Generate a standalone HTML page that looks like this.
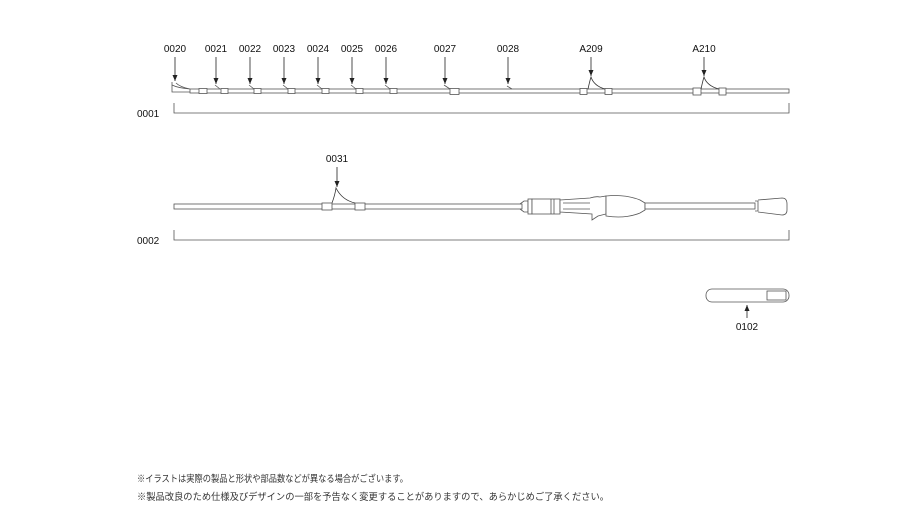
<!DOCTYPE html>
<html><head><meta charset="utf-8"><style>
html,body{margin:0;padding:0;background:#fff;}
svg{display:block;}
text{font-family:"Liberation Sans",sans-serif;font-size:10px;fill:#111;}
.jp{font-family:"Liberation Sans","Noto Sans CJK JP",sans-serif;font-size:9.5px;fill:#333;}
</style></head><body>
<svg width="914" height="530" viewBox="0 0 914 530" xmlns="http://www.w3.org/2000/svg">
<defs><marker id="ah" markerUnits="userSpaceOnUse" markerWidth="8" markerHeight="8" refX="6" refY="3" orient="auto"><path d="M0,0.5 L6,3 L0,5.5 Z" fill="#222"/></marker></defs>
<g stroke="#555" stroke-width="0.8" fill="none">
<path d="M172,82 L172,92 L190,92 M172,85 Q178,88 190,89 M176,83 Q180,87 190,89"/>
<rect x="190" y="89" width="599" height="4" fill="#fff"/>
<rect x="199" y="88.5" width="8" height="5" fill="#fff"/>
<rect x="221" y="88.5" width="7" height="5" fill="#fff"/>
<rect x="254" y="88.5" width="7" height="5" fill="#fff"/>
<rect x="288" y="88.5" width="7" height="5" fill="#fff"/>
<rect x="322" y="88.5" width="7" height="5" fill="#fff"/>
<rect x="356" y="88.5" width="7" height="5" fill="#fff"/>
<rect x="390" y="88.5" width="7" height="5" fill="#fff"/>
<rect x="450" y="88.5" width="9" height="6" fill="#fff"/>
<rect x="580" y="88.5" width="7" height="6" fill="#fff"/>
<rect x="605" y="88.5" width="7" height="6" fill="#fff"/>
<rect x="693" y="88" width="8" height="7" fill="#fff"/>
<rect x="719" y="88" width="7" height="7" fill="#fff"/>
<path d="M215,85 L220,89 M249,85 L254,89 M283,85 L288,89 M317,85 L322,89 M351,85 L356,89 M385,85 L390,89 M444,85 L450,89 M507,86 L512,89"/>
<path d="M588,89 Q590,80 591,77 Q594,86 605,89" stroke="#333"/>
<path d="M701,89 Q703,80 704,77 Q707,86 719,89" stroke="#333"/>
<path d="M174,103 L174,113 L789,113 L789,103"/>
<rect x="174" y="204" width="348" height="5" fill="#fff"/>
<rect x="322" y="203" width="10" height="7" fill="#fff"/>
<rect x="355" y="203" width="10" height="7" fill="#fff"/>
<path d="M332,203 Q335,195 336,188 Q342,200 355,203" stroke="#333"/>
<path d="M520,204 L524,201 L528,201 L528,212 L524,212 L520,209"/>
<rect x="528" y="199" width="4" height="15" fill="#fff"/>
<rect x="532" y="199" width="28" height="15" fill="#fff"/>
<path d="M551,199 L551,214 M554,199 L554,214"/>
<path d="M560,200 L590,198 Q596,196 600,197 L606,196 L606,214 L598,216 L592,220 L592,214 L560,212 Z" fill="#fff"/>
<path d="M563,203 L590,203 M563,209 L590,209"/>
<path d="M606,196 Q625,194 640,200 L645,203 L645,210 L640,213 Q625,219 606,216 Z" fill="#fff"/>
<rect x="645" y="203" width="110" height="6" fill="#fff"/>
<path d="M755,201 L758,201 L758,211 L755,211 M758,200 L782,198 Q787,198 787,204 L787,210 Q787,215 782,215 L758,212"/>
<path d="M174,230 L174,240 L789,240 L789,230"/>
<rect x="706" y="289" width="83" height="13" rx="6" fill="#fff"/>
<rect x="767" y="291" width="19" height="9"/>
</g>
<g stroke="#222" stroke-width="0.8" marker-end="url(#ah)">
<line x1="175" y1="57" x2="175" y2="81"/>
<line x1="216" y1="57" x2="216" y2="84"/>
<line x1="250" y1="57" x2="250" y2="84"/>
<line x1="284" y1="57" x2="284" y2="84"/>
<line x1="318" y1="57" x2="318" y2="84"/>
<line x1="352" y1="57" x2="352" y2="84"/>
<line x1="386" y1="57" x2="386" y2="84"/>
<line x1="445" y1="57" x2="445" y2="84"/>
<line x1="508" y1="57" x2="508" y2="84"/>
<line x1="591" y1="57" x2="591" y2="76"/>
<line x1="704" y1="57" x2="704" y2="76"/>
<line x1="337" y1="167" x2="337" y2="187"/>
<line x1="747" y1="318" x2="747" y2="305"/>
</g>
<g text-anchor="middle">
<text x="175" y="52">0020</text>
<text x="216" y="52">0021</text>
<text x="250" y="52">0022</text>
<text x="284" y="52">0023</text>
<text x="318" y="52">0024</text>
<text x="352" y="52">0025</text>
<text x="386" y="52">0026</text>
<text x="445" y="52">0027</text>
<text x="508" y="52">0028</text>
<text x="591" y="52">A209</text>
<text x="704" y="52">A210</text>
<text x="337" y="162">0031</text>
<text x="747" y="330">0102</text>
</g>
<text x="137" y="117">0001</text>
<text x="137" y="244">0002</text>
<text class="jp" x="137" y="482" textLength="271" lengthAdjust="spacingAndGlyphs">※イラストは実際の製品と形状や部品数などが異なる場合がございます。</text>
<text class="jp" x="137" y="500" textLength="472" lengthAdjust="spacingAndGlyphs">※製品改良のため仕様及びデザインの一部を予告なく変更することがありますので、あらかじめご了承ください。</text>
</svg>
</body></html>
